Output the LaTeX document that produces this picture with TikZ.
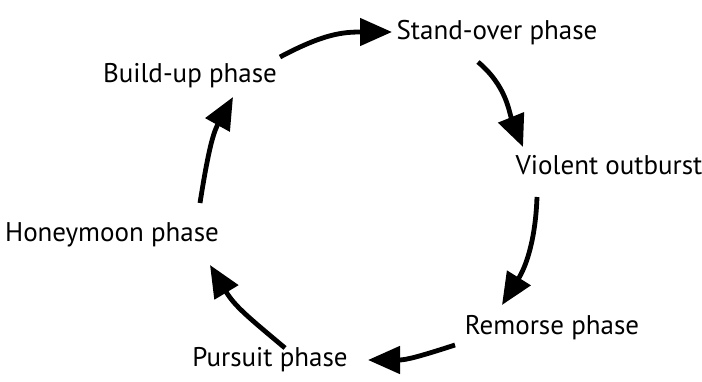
\documentclass[tikz,border=0pt]{standalone}
\usepackage{fontspec}
\setmainfont{PT Sans}
\usetikzlibrary{arrows.meta,calc}
\begin{document}
\begin{tikzpicture}[x=1pt,y=1pt,
  lbl/.style={inner sep=0pt,font=\fontsize{27}{31}\selectfont},
  cyc/.style={line width=4.8pt,-{Triangle[length=32pt,width=27pt]}}]
\useasboundingbox (0,0) rectangle (702,381);
\node[lbl] (so) at (497,348) {Stand-over phase};
\node[lbl] (bu) at (190,305) {Build-up phase};
\node[lbl] (vo) at (609,216) {Violent outburst};
\node[lbl] (hm) at (112,146) {Honeymoon phase};
\node[lbl] (re) at (552,53) {Remorse phase};
\node[lbl] (pu) at (270,21) {Pursuit phase};
\draw[cyc] ($(bu)+(90,19)$) to[out=28,in=180,looseness=1.1] ($(so)+(-105,1)$);
\draw[cyc] ($(so)+(-19,-29)$) to[out=-40,in=112] ($(vo)+(-86,18)$);
\draw[cyc] ($(vo)+(-72,-32)$) to[out=-92,in=58] ($(re)+(-50,23)$);
\draw[cyc] ($(re)+(-97,-17)$) to[out=198,in=0,looseness=1.1] ($(pu)+(98,0)$);
\draw[cyc] ($(pu)+(15,12)$) to[out=140,in=301,looseness=1.1] ($(hm)+(98,-30)$);
\draw[cyc] ($(hm)+(88,32)$) to[out=81,in=241] ($(bu)+(43,-21)$);
\end{tikzpicture}
\end{document}
